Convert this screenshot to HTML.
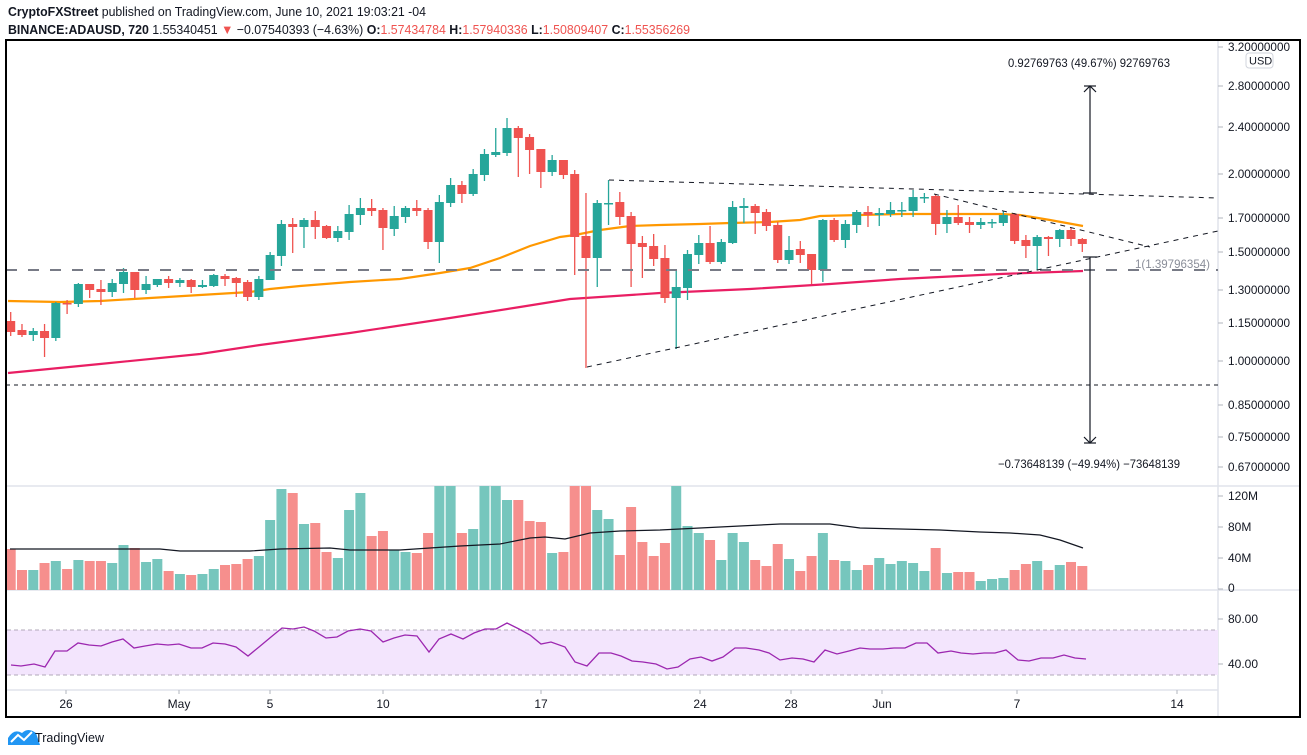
<!DOCTYPE html>
<html><head><meta charset="utf-8"><style>
html,body{margin:0;padding:0;background:#fff;}
svg{display:block;font-family:"Liberation Sans",sans-serif;}
</style></head><body>
<svg id="s" width="1307" height="755" viewBox="0 0 1307 755" xmlns="http://www.w3.org/2000/svg">
<rect width="1307" height="755" fill="#fff"/>
<!-- header -->
<text x="8" y="16" font-size="13" fill="#131722" textLength="418" lengthAdjust="spacingAndGlyphs"><tspan font-weight="bold">CryptoFXStreet</tspan> published on TradingView.com, June 10, 2021 19:03:21 -04</text>
<text x="8" y="34" font-size="13" fill="#131722" textLength="682" lengthAdjust="spacingAndGlyphs"><tspan font-weight="bold">BINANCE:ADAUSD, 720</tspan> 1.55340451 <tspan fill="#ef5350">▼</tspan> −0.07540393 (−4.63%) <tspan font-weight="bold">O:</tspan><tspan fill="#ef5350">1.57434784</tspan> <tspan font-weight="bold">H:</tspan><tspan fill="#ef5350">1.57940336</tspan> <tspan font-weight="bold">L:</tspan><tspan fill="#ef5350">1.50809407</tspan> <tspan font-weight="bold">C:</tspan><tspan fill="#ef5350">1.55356269</tspan></text>

<!-- pane separators -->
<g stroke="#e0e3eb" stroke-width="1.5">
<line x1="6" y1="486" x2="1300" y2="486"/>
<line x1="6" y1="590" x2="1300" y2="590"/>
<line x1="6" y1="690" x2="1218" y2="690"/>
<line x1="1218" y1="40" x2="1218" y2="717"/>
</g>
<defs><clipPath id="cp"><rect x="7" y="41" width="1211" height="445"/></clipPath>
<clipPath id="cv"><rect x="7" y="486" width="1211" height="104"/></clipPath></defs>

<!-- RSI band -->
<rect x="7" y="630" width="1211" height="45" fill="#f3e5fd"/>
<g stroke="#b0a8b9" stroke-width="1" stroke-dasharray="4,3">
<line x1="7" y1="630" x2="1218" y2="630"/><line x1="7" y1="675" x2="1218" y2="675"/></g>

<g id="main" clip-path="url(#cp)"></g>
<g id="vol" clip-path="url(#cv)"></g>
<g id="rsi"></g>

<!-- drawings -->
<line x1="6" y1="270" x2="1218" y2="270" stroke="#787b86" stroke-width="2" stroke-dasharray="11,11"/>
<line x1="6" y1="385" x2="1218" y2="385" stroke="#131722" stroke-width="1" stroke-dasharray="4,4"/>
<g stroke="#131722" stroke-width="1" stroke-dasharray="5,5" fill="none">
<line x1="609" y1="180" x2="1218" y2="198"/>
<line x1="587" y1="367" x2="1218" y2="231"/>
<line x1="934" y1="194" x2="1150" y2="247"/>
</g>
<text x="1135" y="268" font-size="12" fill="#8a8e99" textLength="75" lengthAdjust="spacingAndGlyphs">1(1.39796354)</text>
<g stroke="#131722" stroke-width="1.2" fill="none">
<line x1="1090" y1="86" x2="1090" y2="193"/>
<line x1="1090" y1="257" x2="1090" y2="443"/>
<line x1="1083" y1="193" x2="1097" y2="193"/>
<line x1="1083" y1="257" x2="1097" y2="257"/>
<polyline points="1084,92 1090,86 1096,92"/>
<polyline points="1084,437 1090,443 1096,437"/>
<line x1="1084" y1="86" x2="1096" y2="86"/>
<line x1="1084" y1="443" x2="1096" y2="443"/>
</g>
<text x="1008" y="67" font-size="12" fill="#131722" textLength="162" lengthAdjust="spacingAndGlyphs">0.92769763 (49.67%) 92769763</text>
<text x="998" y="468" font-size="12" fill="#131722" textLength="182" lengthAdjust="spacingAndGlyphs">−0.73648139 (−49.94%) −73648139</text>

<!-- price axis -->
<g font-size="12" fill="#131722">
<g stroke="#b2b5be"><line x1="1218" y1="47" x2="1223" y2="47"/><line x1="1218" y1="86" x2="1223" y2="86"/><line x1="1218" y1="127" x2="1223" y2="127"/><line x1="1218" y1="174" x2="1223" y2="174"/><line x1="1218" y1="218" x2="1223" y2="218"/><line x1="1218" y1="252" x2="1223" y2="252"/><line x1="1218" y1="290" x2="1223" y2="290"/><line x1="1218" y1="323" x2="1223" y2="323"/><line x1="1218" y1="361" x2="1223" y2="361"/><line x1="1218" y1="405" x2="1223" y2="405"/><line x1="1218" y1="437" x2="1223" y2="437"/><line x1="1218" y1="467" x2="1223" y2="467"/>
<line x1="1218" y1="496" x2="1223" y2="496"/><line x1="1218" y1="527" x2="1223" y2="527"/><line x1="1218" y1="558" x2="1223" y2="558"/><line x1="1218" y1="589" x2="1223" y2="589"/><line x1="1218" y1="619" x2="1223" y2="619"/><line x1="1218" y1="664" x2="1223" y2="664"/></g>
<text x="1228" y="51" textLength="62" lengthAdjust="spacingAndGlyphs">3.20000000</text>
<text x="1228" y="90" textLength="62" lengthAdjust="spacingAndGlyphs">2.80000000</text>
<text x="1228" y="131" textLength="62" lengthAdjust="spacingAndGlyphs">2.40000000</text>
<text x="1228" y="178" textLength="62" lengthAdjust="spacingAndGlyphs">2.00000000</text>
<text x="1228" y="222" textLength="62" lengthAdjust="spacingAndGlyphs">1.70000000</text>
<text x="1228" y="256" textLength="62" lengthAdjust="spacingAndGlyphs">1.50000000</text>
<text x="1228" y="294" textLength="62" lengthAdjust="spacingAndGlyphs">1.30000000</text>
<text x="1228" y="327" textLength="62" lengthAdjust="spacingAndGlyphs">1.15000000</text>
<text x="1228" y="365" textLength="62" lengthAdjust="spacingAndGlyphs">1.00000000</text>
<text x="1228" y="409" textLength="62" lengthAdjust="spacingAndGlyphs">0.85000000</text>
<text x="1228" y="441" textLength="62" lengthAdjust="spacingAndGlyphs">0.75000000</text>
<text x="1228" y="471" textLength="62" lengthAdjust="spacingAndGlyphs">0.67000000</text>
<text x="1228" y="500">120M</text>
<text x="1228" y="531">80M</text>
<text x="1228" y="562">40M</text>
<text x="1228" y="592">0</text>
<text x="1228" y="623">80.00</text>
<text x="1228" y="668">40.00</text>
</g>
<rect x="1246" y="53" width="27" height="15" rx="3" fill="#fff" stroke="#d1d4dc"/>
<text x="1249" y="64.5" font-size="11" fill="#131722">USD</text>

<!-- time axis -->
<g stroke="#b2b5be"><line x1="66" y1="690" x2="66" y2="694"/><line x1="179" y1="690" x2="179" y2="694"/><line x1="270" y1="690" x2="270" y2="694"/><line x1="383" y1="690" x2="383" y2="694"/><line x1="541" y1="690" x2="541" y2="694"/><line x1="700" y1="690" x2="700" y2="694"/><line x1="791" y1="690" x2="791" y2="694"/><line x1="882" y1="690" x2="882" y2="694"/><line x1="1017" y1="690" x2="1017" y2="694"/><line x1="1177" y1="690" x2="1177" y2="694"/></g>
<g font-size="12" fill="#131722" text-anchor="middle">
<text x="66" y="708">26</text><text x="179" y="708">May</text><text x="270" y="708">5</text><text x="383" y="708">10</text><text x="541" y="708">17</text><text x="700" y="708">24</text><text x="791" y="708">28</text><text x="882" y="708">Jun</text><text x="1017" y="708">7</text><text x="1177" y="708">14</text>
</g>

<!-- frame -->
<rect x="6" y="40" width="1294" height="677" fill="none" stroke="#000" stroke-width="2"/>

<!-- footer -->
<g fill="#2196f3"><path d="M8,745 L8,738 Q14,728 22,733 Q28,727 36,733 L40,745 Z"/></g>
<polyline points="11,742 18,735 24,740 32,732" fill="none" stroke="#fff" stroke-width="2"/>
<text x="35" y="742" font-size="13" fill="#131722" textLength="69" lengthAdjust="spacingAndGlyphs">TradingView</text>
</svg>
<script>
var NS="http://www.w3.org/2000/svg";
function el(p,t,a){var e=document.createElementNS(NS,t);for(var k in a)e.setAttribute(k,a[k]);p.appendChild(e);return e;}
var C=[[321,332,312,336],[330,335,324,337],[335,331,328,341],[331,338,324,357],[338,303,302,341],[303,304,300,314],[304,284,283,307],[284,290,284,298],[289,292,280,305],[292,283,279,297],[284,272,268,293],[272,290,272,298],[290,284,276,294],[285,279,279,287],[279,283,276,288],[283,280,278,287],[280,287,279,293],[287,285,280,288],[286,275,274,287],[276,279,274,286],[278,283,277,297],[282,297,280,301],[297,279,276,300],[280,255,252,280],[256,224,220,266],[224,227,218,253],[227,220,218,248],[220,227,211,239],[226,238,225,239],[238,231,226,242],[232,214,205,240],[215,208,198,225],[208,211,199,216],[210,228,208,250],[229,216,206,236],[217,208,206,223],[208,211,200,216],[210,242,208,249],[242,202,195,263],[203,185,178,207],[185,194,181,203],[194,174,169,196],[175,154,149,181],[155,152,128,157],[153,128,118,156],[128,138,126,177],[137,150,134,174],[149,172,149,188],[172,160,155,176],[160,175,160,179],[174,237,170,275],[236,258,193,368],[258,203,200,287],[204,203,180,225],[202,217,192,225],[216,244,212,287],[243,247,236,278],[246,259,234,266],[258,298,245,303],[298,287,271,349],[288,254,250,300],[255,243,235,264],[243,262,226,264],[262,242,239,264],[243,207,201,244],[208,206,198,223],[206,213,204,234],[212,226,209,231],[225,260,222,263],[260,250,236,264],[249,255,241,263],[254,270,254,284],[270,220,219,282],[220,240,218,242],[240,224,220,248],[225,212,210,233],[212,215,206,227],[215,213,208,226],[214,210,202,217],[211,210,202,217],[211,197,190,217],[198,197,193,203],[196,224,194,235],[224,217,210,233],[217,223,205,225],[222,225,217,233],[225,222,218,229],[223,222,219,228],[223,215,211,226],[214,241,213,244],[240,246,235,258],[246,237,235,270],[237,239,236,256],[239,230,229,247],[230,239,228,246],[239,244,238,252]];
var V=[549,570,570,563,561,569,560,561,561,563,545,548,562,559,571,574,575,574,569,565,564,559,556,520,489,493,524,523,552,558,510,493,536,531,550,552,553,533,486,486,533,529,486,486,500,500,521,522,553,552,486,486,510,519,555,507,542,556,543,486,526,533,540,560,533,542,560,566,544,559,571,556,533,560,561,570,565,558,564,561,563,571,548,573,572,572,581,579,578,570,564,561,570,565,562,566];
var m=document.getElementById("main"),v=document.getElementById("vol"),r=document.getElementById("rsi");
function X(i){return 10.7+11.28*i;}
// MAs
el(m,"polyline",{points:"8,373 100,364 200,354 260,345 350,333 450,318 520,307 570,299 660,293 750,289 830,284 900,279 1000,274 1083,271",fill:"none",stroke:"#e91e63","stroke-width":2.2});
el(m,"polyline",{points:"8,301 60,302 100,301 150,298 200,295 250,292 270,289 300,286 350,282 400,279 440,273 470,268 500,258 530,246 560,237 575,235 600,230 630,226 660,225 700,224 730,223 770,222 800,220 820,216 860,215 900,214 950,214 1000,214 1020,215 1050,220 1083,226",fill:"none",stroke:"#ff9800","stroke-width":2.2});
for(var i=0;i<C.length;i++){var c=C[i],x=X(i),g=c[1]<c[0],col=g?"#26a69a":"#ef5350";
el(m,"line",{x1:x,y1:c[2],x2:x,y2:c[3],stroke:col,"stroke-width":1.3});
var t=Math.min(c[0],c[1]),h=Math.max(1.5,Math.abs(c[1]-c[0]));
el(m,"rect",{x:x-4.5,y:t,width:9,height:h,fill:col});
el(v,"rect",{x:x-5,y:V[i],width:10,height:590-V[i],fill:g?"#76c6bd":"#f68f8d"});}
el(v,"polyline",{points:"10,549 160,549 180,551 250,551 280,549 330,548 350,550 400,550 430,548 460,546 500,544 530,538 545,537 565,539 590,533 620,531 660,530 700,528 740,526 780,524 830,524 860,528 900,529 940,530 980,532 1010,533 1040,535 1060,540 1083,548",fill:"none",stroke:"#131722","stroke-width":1.2});
el(r,"polyline",{points:"11,665 21,666 34,664 45,667 55,651 67,651 78,643 89,645 101,646 112,642 123,639 134,648 145,646 157,644 168,645 179,644 191,648 202,648 213,643 225,644 236,647 248,656 259,647 271,637 282,628 293,629 304,627 314,631 326,638 337,637 348,631 360,629 371,631 383,642 394,638 405,635 417,636 429,652 439,639 451,634 463,639 474,633 485,629 496,629 507,623 519,629 530,635 541,644 551,642 565,647 575,662 587,666 599,653 611,653 621,656 632,661 643,662 656,664 667,669 678,667 690,659 701,657 712,661 723,657 735,648 746,648 759,650 769,653 780,660 792,658 803,659 814,662 825,650 837,654 849,651 860,648 870,649 883,649 894,648 905,648 916,643 927,643 938,653 951,651 961,653 973,654 984,653 995,653 1006,650 1018,660 1029,661 1041,658 1053,658 1064,655 1075,658 1086,659",fill:"none",stroke:"#9c27b0","stroke-width":1.3});
</script>
</body></html>
